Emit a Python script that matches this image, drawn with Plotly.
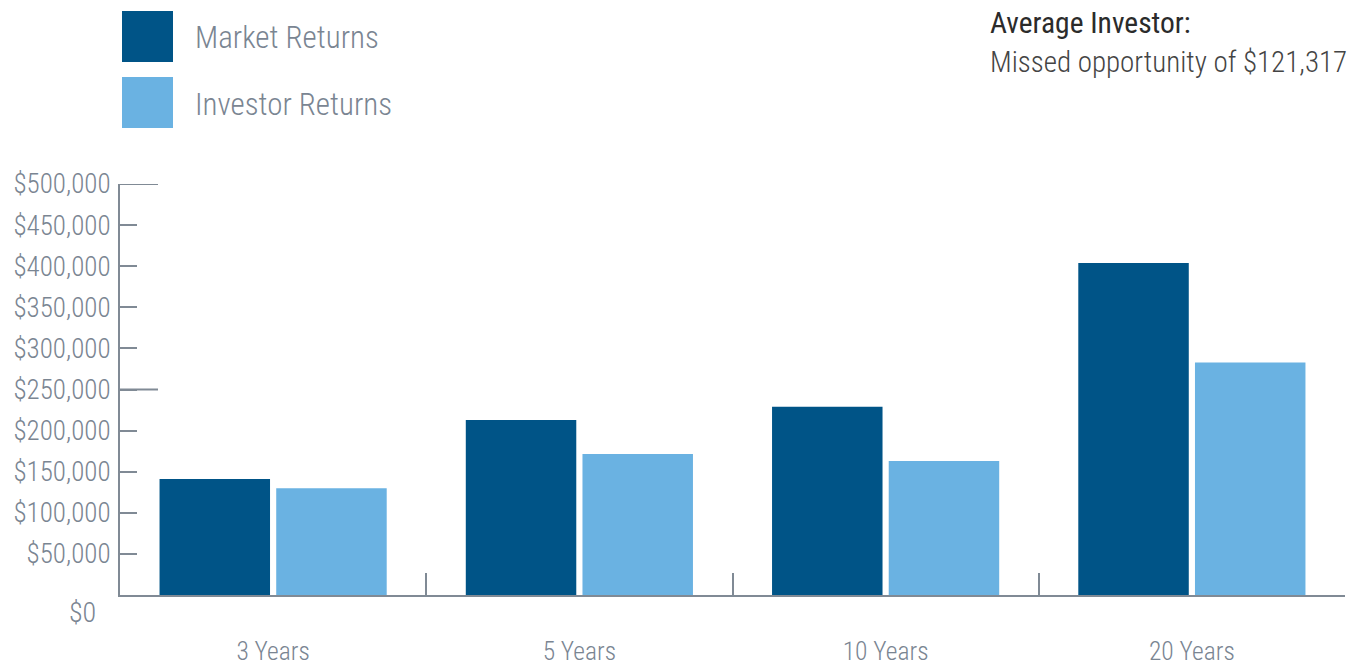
import plotly.graph_objects as go

categories = ["3 Years", "5 Years", "10 Years", "20 Years"]
market_returns = [141000, 213000, 229000, 404000]
investor_returns = [130000, 171500, 163000, 282700]
y_tick_values = [50000, 100000, 150000, 200000, 250000, 300000, 350000, 400000, 450000, 500000]
y_tick_labels = ["$50,000", "$100,000", "$150,000", "$200,000", "$250,000",
                 "$300,000", "$350,000", "$400,000", "$450,000", "$500,000"]
long_tick_values = [250000, 500000]

W, H = 1359, 667
L, R, T, B = 120, 14, 184, 72
PW, PH = W - L - R, H - T - B

def px(x):
    return (x - L) / PW

def py(y):
    return (H - B - y) / PH

DARK = "#005487"
LIGHT = "#6AB2E2"
AXIS = "#808A95"
TXT = "#7A8592"
FONT = "Roboto Condensed, DejaVu Sans Condensed, sans-serif"

fig = go.Figure()
fig.add_trace(go.Bar(x=categories, y=market_returns, name="Market Returns",
                     marker=dict(color=DARK, line=dict(width=0))))
fig.add_trace(go.Bar(x=categories, y=investor_returns, name="Investor Returns",
                     marker=dict(color=LIGHT, line=dict(width=0))))

shapes = []
for v in long_tick_values:
    shapes.append(dict(type="line", xref="paper", yref="y", x0=0, x1=px(158), y0=v, y1=v,
                       line=dict(color=AXIS, width=2)))
shapes.append(dict(type="rect", xref="paper", yref="paper", x0=px(122), x1=px(173),
                   y0=py(62), y1=py(11), fillcolor=DARK, line=dict(width=0)))
shapes.append(dict(type="rect", xref="paper", yref="paper", x0=px(122), x1=px(173),
                   y0=py(128), y1=py(77), fillcolor=LIGHT, line=dict(width=0)))

annotations = [
    dict(text="Market Returns", xref="paper", yref="paper", x=px(193), y=py(37),
         xanchor="left", yanchor="middle", showarrow=False,
         font=dict(family=FONT, size=31, color=TXT, weight=300)),
    dict(text="Investor Returns", xref="paper", yref="paper", x=px(193), y=py(104),
         xanchor="left", yanchor="middle", showarrow=False,
         font=dict(family=FONT, size=31, color=TXT, weight=300)),
    dict(text="Average Investor:", xref="paper", yref="paper", x=px(988), y=py(23),
         xanchor="left", yanchor="middle", showarrow=False,
         font=dict(family=FONT, size=29.5, color="#2b2b2b", weight=400)),
    dict(text="Missed opportunity of $121,317", xref="paper", yref="paper", x=px(988), y=py(62),
         xanchor="left", yanchor="middle", showarrow=False,
         font=dict(family=FONT, size=29, color="#444444", weight=300)),
    dict(text="$0", xref="paper", yref="y", x=px(98), y=0, yshift=-17,
         xanchor="right", yanchor="middle", showarrow=False,
         font=dict(family=FONT, size=28, color=TXT, weight=300)),
]

fig.update_layout(
    width=W, height=H,
    margin=dict(l=L, r=R, t=T, b=B, pad=0),
    paper_bgcolor="white", plot_bgcolor="white",
    barmode="group", bargap=0.238, bargroupgap=0.053,
    showlegend=False,
    shapes=shapes, annotations=annotations,
    font=dict(family=FONT, color=TXT),
    xaxis=dict(showline=True, linecolor=AXIS, linewidth=2, showgrid=False, zeroline=False,
               ticks="inside", tickson="boundaries", ticklen=22, tickwidth=2, tickcolor=AXIS,
               tickfont=dict(family=FONT, size=25.5, color=TXT, weight=300), ticklabelstandoff=32,
               automargin=False, fixedrange=True),
    yaxis=dict(range=[0, 500000], showline=True, linecolor=AXIS, linewidth=2, showgrid=False,
               zeroline=False, tickmode="array", tickvals=y_tick_values, ticktext=y_tick_labels,
               ticks="inside", ticklen=17, tickwidth=2, tickcolor=AXIS,
               tickfont=dict(family=FONT, size=27, color=TXT, weight=300), ticklabelstandoff=2,
               automargin=False, fixedrange=True),
)

fig.write_html("out.html", config={"displayModeBar": False},
               post_script="document.body.style.margin='0';document.body.style.padding='0';")
